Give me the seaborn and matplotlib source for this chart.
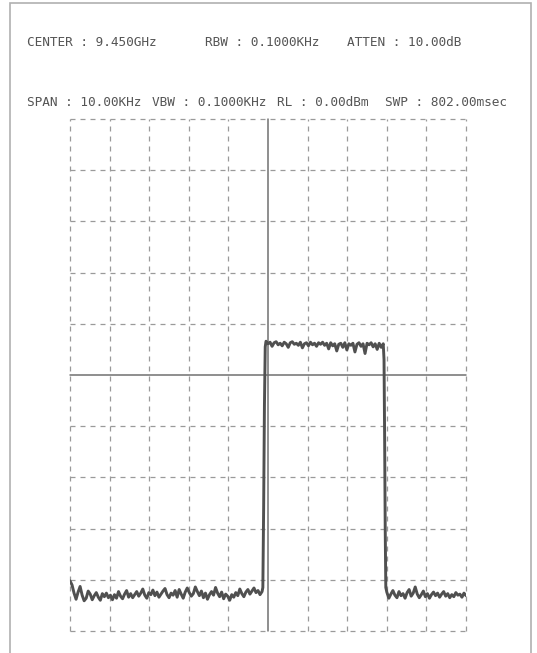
import numpy as np
import pandas as pd
import matplotlib
matplotlib.use("Agg")
import matplotlib.pyplot as plt
from matplotlib.patches import Rectangle
import seaborn as sns

# Spectrum analyser settings shown in the header
header_row1 = ["CENTER : 9.450GHz", "RBW : 0.1000KHz", "ATTEN : 10.00dB"]
header_row2 = ["SPAN : 10.00KHz", "VBW : 0.1000KHz", "RL : 0.00dBm", "SWP : 802.00msec"]

# Trace levels (dBm); frequency offsets from centre in kHz
floor_left = [-90.2, -91.0, -92.6, -93.8, -92.4, -91.3, -93.0, -94.1, -93.6, -92.2,
              -92.8, -93.9, -93.1, -92.5, -93.4, -94.0, -92.7, -93.3, -92.6, -93.5,
              -93.0, -93.9, -92.9, -93.6, -92.3, -93.2, -93.7, -92.8, -92.1, -93.4,
              -92.7, -93.5, -92.9, -92.3, -93.2, -92.6, -91.8, -93.0, -93.6, -92.5,
              -92.9, -92.0, -93.1, -92.4, -93.4, -92.8, -92.2, -91.7, -92.9, -93.5,
              -92.6, -93.0, -92.1, -93.4, -91.9, -92.8, -93.6, -92.4, -91.6, -92.5,
              -93.2, -92.7, -91.4, -92.3, -93.1, -92.2, -93.5, -92.6, -93.8, -92.9,
              -92.3, -93.0, -91.5, -92.6, -93.3, -92.4, -93.7, -92.8, -93.2, -94.0,
              -92.9, -93.4, -92.5, -93.1, -91.8, -92.7, -93.3, -92.4, -91.9, -92.8,
              -92.2, -91.6, -92.5, -92.1, -92.9, -92.3]
rise_freq = [-0.13, -0.11, -0.09, -0.07]
rise_level = [-91.5, -76.0, -56.0, -44.5]
top_level = [-43.4, -43.9, -43.6, -44.4, -43.7, -43.5, -44.1, -43.8, -44.3, -43.6,
             -43.9, -44.6, -43.7, -43.5, -44.0, -43.8, -44.2, -43.6, -44.7, -43.9,
             -43.7, -44.3, -43.6, -44.1, -43.8, -44.4, -43.7, -44.0, -43.6, -44.2,
             -43.8, -44.9, -43.7, -44.3, -43.9, -45.3, -44.0, -43.8, -44.6, -43.7,
             -45.1, -43.9, -44.2, -43.8, -45.5, -44.0, -43.7, -44.4, -43.9, -45.8,
             -43.8, -44.1, -43.7, -44.5, -43.9, -45.0, -43.8, -44.6, -43.9]
fall_freq = [2.93, 2.945, 2.96, 2.975]
fall_level = [-47.0, -62.0, -80.0, -91.5]
floor_right = [-92.4, -93.6, -92.8, -92.1, -93.0, -93.5, -92.3, -93.1, -92.7, -93.6,
               -92.5, -91.9, -93.2, -92.6, -91.4, -92.8, -93.5, -92.9, -92.2, -93.3,
               -92.7, -93.6, -92.9, -92.4, -93.1, -92.6, -93.4, -92.8, -92.3, -93.2,
               -92.7, -93.5, -92.9, -93.3, -92.5, -93.0, -92.8, -93.4, -92.6, -93.1]

freq = np.concatenate([
    np.linspace(-5.0, -0.15, len(floor_left)),
    rise_freq,
    np.linspace(-0.05, 2.91, len(top_level)),
    fall_freq,
    np.linspace(3.0, 5.0, len(floor_right)),
])
level = np.concatenate([floor_left, rise_level, top_level, fall_level, floor_right])
trace = pd.DataFrame({"freq": freq, "level": level})

sns.set_style("white")
plt.rcParams["font.family"] = ["DejaVu Sans Mono", "DejaVu Sans"]

W, H = 537, 653
fig = plt.figure(figsize=(W / 100, H / 100), dpi=100)
fig.patch.set_facecolor("white")

# Outer frame
fig.add_artist(Rectangle((10 / W, -0.01), (531 - 10) / W, 1 - 3 / H + 0.01,
                         transform=fig.transFigure, fill=False,
                         edgecolor="#b0b0b0", linewidth=1.2))

ax = fig.add_axes([70 / W, 1 - 631 / H, (466 - 70) / W, (631 - 119) / H])
ax.set_xlim(-5, 5)
ax.set_ylim(-100, 0)
for s in ax.spines.values():
    s.set_visible(False)
ax.set_xticks([])
ax.set_yticks([])

# Graticule: dashed divisions, solid centre lines
grid_kw = dict(color="#9a9a9a", linewidth=0.9, dashes=(4, 4), clip_on=False)
for xv in np.arange(-5, 6, 1):
    if xv == 0:
        ax.axvline(xv, color="#707070", linewidth=1.1, clip_on=False)
    else:
        ax.axvline(xv, **grid_kw)
for yv in np.arange(-100, 1, 10):
    if yv == -50:
        ax.axhline(yv, color="#707070", linewidth=1.1, clip_on=False)
    else:
        ax.axhline(yv, **grid_kw)

sns.lineplot(data=trace, x="freq", y="level", ax=ax, color="#505050",
             linewidth=2.1, sort=False, estimator=None)
ax.set_xlabel("")
ax.set_ylabel("")

txt_kw = dict(fontsize=9.2, color="#555555", va="center", ha="left")
for label, xp in zip(header_row1, [27, 205, 347]):
    fig.text(xp / W, 1 - 42 / H, label, **txt_kw)
for label, xp in zip(header_row2, [27, 152, 277, 385]):
    fig.text(xp / W, 1 - 102 / H, label, **txt_kw)

fig.savefig("out.png", dpi=100, facecolor="white")
